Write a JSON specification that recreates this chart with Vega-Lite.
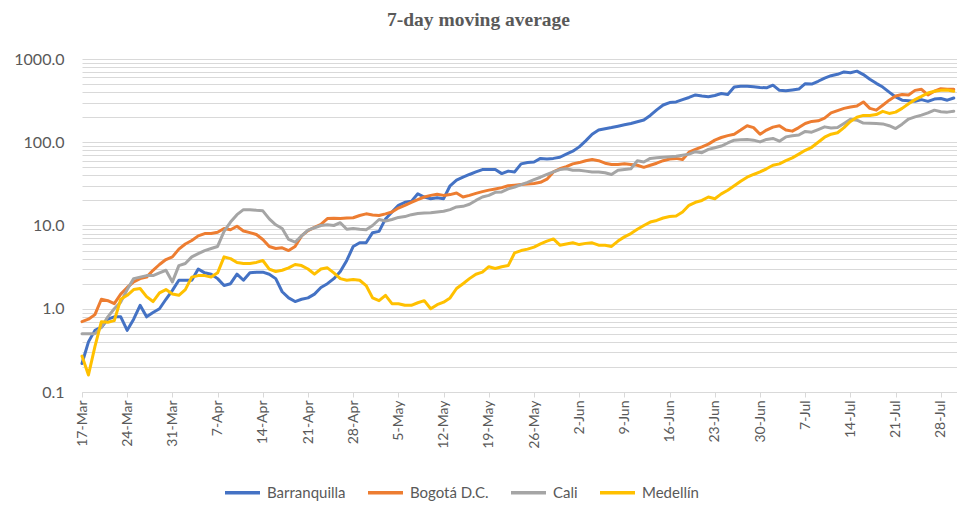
{
  "$schema": "https://vega.github.io/schema/vega-lite/v6.json",
  "width": 875,
  "height": 333,
  "autosize": {"type": "none"},
  "padding": {"left": 82, "top": 59, "right": 0, "bottom": 115},
  "background": "white",
  "title": {"text": "7-day moving average", "font": "Liberation Serif", "fontSize": 19.5, "fontWeight": "bold", "color": "#595959", "anchor": "middle", "dx": -41, "offset": 21},
  "data": {"values": [
    {"d":"2020-03-17T00:00","B":0.22,"O":0.7,"C":0.5,"M":0.27},
    {"d":"2020-03-18T00:00","B":0.4,"O":0.75,"C":0.5,"M":0.16},
    {"d":"2020-03-19T00:00","B":0.55,"O":0.85,"C":0.5,"M":0.35},
    {"d":"2020-03-20T00:00","B":0.6,"O":1.3,"C":0.6,"M":0.7},
    {"d":"2020-03-21T00:00","B":0.75,"O":1.25,"C":0.8,"M":0.69},
    {"d":"2020-03-22T00:00","B":0.8,"O":1.15,"C":1.0,"M":0.72},
    {"d":"2020-03-23T00:00","B":0.8,"O":1.5,"C":1.2,"M":1.3},
    {"d":"2020-03-24T00:00","B":0.55,"O":1.8,"C":1.7,"M":1.45},
    {"d":"2020-03-25T00:00","B":0.75,"O":2.1,"C":2.3,"M":1.7},
    {"d":"2020-03-26T00:00","B":1.1,"O":2.3,"C":2.4,"M":1.75},
    {"d":"2020-03-27T00:00","B":0.8,"O":2.4,"C":2.5,"M":1.4},
    {"d":"2020-03-28T00:00","B":0.9,"O":2.9,"C":2.5,"M":1.22},
    {"d":"2020-03-29T00:00","B":1.0,"O":3.4,"C":2.7,"M":1.55},
    {"d":"2020-03-30T00:00","B":1.3,"O":3.9,"C":2.9,"M":1.7},
    {"d":"2020-03-31T00:00","B":1.66,"O":4.2,"C":2.1,"M":1.5},
    {"d":"2020-04-01T00:00","B":2.2,"O":5.2,"C":3.3,"M":1.45},
    {"d":"2020-04-02T00:00","B":2.2,"O":6.0,"C":3.5,"M":1.7},
    {"d":"2020-04-03T00:00","B":2.2,"O":6.6,"C":4.2,"M":2.4},
    {"d":"2020-04-04T00:00","B":3.0,"O":7.5,"C":4.6,"M":2.5},
    {"d":"2020-04-05T00:00","B":2.7,"O":8.0,"C":5.0,"M":2.5},
    {"d":"2020-04-06T00:00","B":2.6,"O":8.0,"C":5.3,"M":2.4},
    {"d":"2020-04-07T00:00","B":2.3,"O":8.3,"C":5.6,"M":2.7},
    {"d":"2020-04-08T00:00","B":1.9,"O":9.2,"C":8.5,"M":4.2},
    {"d":"2020-04-09T00:00","B":2.0,"O":8.9,"C":11,"M":4.0},
    {"d":"2020-04-10T00:00","B":2.6,"O":9.8,"C":13.5,"M":3.6},
    {"d":"2020-04-11T00:00","B":2.2,"O":8.6,"C":15.5,"M":3.5},
    {"d":"2020-04-12T00:00","B":2.7,"O":8.2,"C":15.5,"M":3.5},
    {"d":"2020-04-13T00:00","B":2.75,"O":7.8,"C":15.2,"M":3.6},
    {"d":"2020-04-14T00:00","B":2.75,"O":6.8,"C":15.0,"M":3.8},
    {"d":"2020-04-15T00:00","B":2.6,"O":5.6,"C":12,"M":3.0},
    {"d":"2020-04-16T00:00","B":2.3,"O":5.3,"C":10.2,"M":2.8},
    {"d":"2020-04-17T00:00","B":1.6,"O":5.4,"C":9.2,"M":2.9},
    {"d":"2020-04-18T00:00","B":1.35,"O":5.0,"C":6.8,"M":3.1},
    {"d":"2020-04-19T00:00","B":1.22,"O":5.6,"C":6.3,"M":3.4},
    {"d":"2020-04-20T00:00","B":1.3,"O":7.5,"C":7.5,"M":3.3},
    {"d":"2020-04-21T00:00","B":1.35,"O":8.7,"C":8.8,"M":3.0},
    {"d":"2020-04-22T00:00","B":1.5,"O":9.5,"C":9.4,"M":2.6},
    {"d":"2020-04-23T00:00","B":1.8,"O":10.3,"C":10,"M":3.0},
    {"d":"2020-04-24T00:00","B":2.0,"O":12.1,"C":10.2,"M":3.1},
    {"d":"2020-04-25T00:00","B":2.3,"O":12.2,"C":10,"M":2.7},
    {"d":"2020-04-26T00:00","B":2.8,"O":12.1,"C":10.8,"M":2.3},
    {"d":"2020-04-27T00:00","B":3.8,"O":12.3,"C":9.0,"M":2.2},
    {"d":"2020-04-28T00:00","B":5.6,"O":12.4,"C":9.2,"M":2.25},
    {"d":"2020-04-29T00:00","B":6.2,"O":13.2,"C":9.0,"M":2.2},
    {"d":"2020-04-30T00:00","B":6.2,"O":13.8,"C":8.9,"M":1.9},
    {"d":"2020-05-01T00:00","B":8.2,"O":13.4,"C":10,"M":1.35},
    {"d":"2020-05-02T00:00","B":8.5,"O":13.2,"C":11.8,"M":1.25},
    {"d":"2020-05-03T00:00","B":12,"O":13.8,"C":11.3,"M":1.45},
    {"d":"2020-05-04T00:00","B":14.5,"O":14.5,"C":11.8,"M":1.15},
    {"d":"2020-05-05T00:00","B":17.5,"O":16.2,"C":12.5,"M":1.15},
    {"d":"2020-05-06T00:00","B":19,"O":17.5,"C":12.8,"M":1.1},
    {"d":"2020-05-07T00:00","B":19.5,"O":19,"C":13.5,"M":1.1},
    {"d":"2020-05-08T00:00","B":24,"O":20.5,"C":13.9,"M":1.18},
    {"d":"2020-05-09T00:00","B":22,"O":22,"C":14.1,"M":1.25},
    {"d":"2020-05-10T00:00","B":21,"O":23,"C":14.2,"M":1.0},
    {"d":"2020-05-11T00:00","B":21.5,"O":23.7,"C":14.5,"M":1.12},
    {"d":"2020-05-12T00:00","B":21,"O":23,"C":14.8,"M":1.2},
    {"d":"2020-05-13T00:00","B":30,"O":23.5,"C":15.5,"M":1.35},
    {"d":"2020-05-14T00:00","B":35,"O":24.6,"C":16.7,"M":1.75},
    {"d":"2020-05-15T00:00","B":38,"O":22,"C":17,"M":2.0},
    {"d":"2020-05-16T00:00","B":41,"O":23,"C":18,"M":2.3},
    {"d":"2020-05-17T00:00","B":44,"O":24.3,"C":20,"M":2.6},
    {"d":"2020-05-18T00:00","B":47,"O":25.5,"C":22,"M":2.75},
    {"d":"2020-05-19T00:00","B":47,"O":26.6,"C":23,"M":3.2},
    {"d":"2020-05-20T00:00","B":47,"O":27.5,"C":25,"M":3.05},
    {"d":"2020-05-21T00:00","B":42,"O":28.5,"C":25.3,"M":3.2},
    {"d":"2020-05-22T00:00","B":45,"O":30,"C":27.5,"M":3.3},
    {"d":"2020-05-23T00:00","B":44,"O":30.5,"C":29,"M":4.7},
    {"d":"2020-05-24T00:00","B":55,"O":31,"C":31,"M":5.0},
    {"d":"2020-05-25T00:00","B":57,"O":31.5,"C":33,"M":5.2},
    {"d":"2020-05-26T00:00","B":58,"O":32,"C":35.5,"M":5.5},
    {"d":"2020-05-27T00:00","B":64,"O":33,"C":38,"M":6.0},
    {"d":"2020-05-28T00:00","B":63,"O":36,"C":41,"M":6.5},
    {"d":"2020-05-29T00:00","B":64,"O":44,"C":44,"M":6.9},
    {"d":"2020-05-30T00:00","B":66,"O":48,"C":47,"M":5.8},
    {"d":"2020-05-31T00:00","B":72,"O":51,"C":48,"M":6.0},
    {"d":"2020-06-01T00:00","B":78,"O":55,"C":46,"M":6.2},
    {"d":"2020-06-02T00:00","B":88,"O":57,"C":46,"M":5.9},
    {"d":"2020-06-03T00:00","B":104,"O":60,"C":45,"M":6.1},
    {"d":"2020-06-04T00:00","B":125,"O":62,"C":44,"M":6.2},
    {"d":"2020-06-05T00:00","B":140,"O":60,"C":44,"M":5.8},
    {"d":"2020-06-06T00:00","B":145,"O":56,"C":43,"M":5.8},
    {"d":"2020-06-07T00:00","B":150,"O":54,"C":41,"M":5.6},
    {"d":"2020-06-08T00:00","B":156,"O":54,"C":46,"M":6.5},
    {"d":"2020-06-09T00:00","B":162,"O":55,"C":47,"M":7.3},
    {"d":"2020-06-10T00:00","B":168,"O":54,"C":48,"M":8.0},
    {"d":"2020-06-11T00:00","B":176,"O":53,"C":60,"M":9.0},
    {"d":"2020-06-12T00:00","B":185,"O":50,"C":58,"M":10},
    {"d":"2020-06-13T00:00","B":210,"O":53,"C":64,"M":11},
    {"d":"2020-06-14T00:00","B":245,"O":56,"C":65,"M":11.5},
    {"d":"2020-06-15T00:00","B":280,"O":60,"C":66,"M":12.3},
    {"d":"2020-06-16T00:00","B":300,"O":63,"C":67,"M":12.8},
    {"d":"2020-06-17T00:00","B":305,"O":64,"C":68,"M":13},
    {"d":"2020-06-18T00:00","B":325,"O":62,"C":70,"M":14.5},
    {"d":"2020-06-19T00:00","B":345,"O":76,"C":72,"M":17.5},
    {"d":"2020-06-20T00:00","B":370,"O":82,"C":77,"M":19},
    {"d":"2020-06-21T00:00","B":360,"O":88,"C":75,"M":20},
    {"d":"2020-06-22T00:00","B":352,"O":95,"C":82,"M":22},
    {"d":"2020-06-23T00:00","B":365,"O":106,"C":86,"M":21},
    {"d":"2020-06-24T00:00","B":385,"O":114,"C":90,"M":24},
    {"d":"2020-06-25T00:00","B":375,"O":120,"C":98,"M":26.5},
    {"d":"2020-06-26T00:00","B":460,"O":125,"C":106,"M":30},
    {"d":"2020-06-27T00:00","B":470,"O":140,"C":107,"M":34},
    {"d":"2020-06-28T00:00","B":470,"O":158,"C":108,"M":38},
    {"d":"2020-06-29T00:00","B":465,"O":150,"C":106,"M":41},
    {"d":"2020-06-30T00:00","B":455,"O":125,"C":101,"M":44},
    {"d":"2020-07-01T00:00","B":450,"O":140,"C":108,"M":48},
    {"d":"2020-07-02T00:00","B":485,"O":152,"C":111,"M":53},
    {"d":"2020-07-03T00:00","B":420,"O":158,"C":103,"M":55},
    {"d":"2020-07-04T00:00","B":415,"O":140,"C":116,"M":60},
    {"d":"2020-07-05T00:00","B":425,"O":136,"C":120,"M":65},
    {"d":"2020-07-06T00:00","B":435,"O":150,"C":122,"M":72},
    {"d":"2020-07-07T00:00","B":505,"O":168,"C":135,"M":80},
    {"d":"2020-07-08T00:00","B":500,"O":178,"C":132,"M":87},
    {"d":"2020-07-09T00:00","B":540,"O":181,"C":142,"M":100},
    {"d":"2020-07-10T00:00","B":590,"O":195,"C":153,"M":115},
    {"d":"2020-07-11T00:00","B":630,"O":225,"C":148,"M":125},
    {"d":"2020-07-12T00:00","B":655,"O":240,"C":150,"M":130},
    {"d":"2020-07-13T00:00","B":700,"O":255,"C":168,"M":150},
    {"d":"2020-07-14T00:00","B":685,"O":265,"C":189,"M":178},
    {"d":"2020-07-15T00:00","B":715,"O":272,"C":184,"M":200},
    {"d":"2020-07-16T00:00","B":650,"O":305,"C":170,"M":210},
    {"d":"2020-07-17T00:00","B":570,"O":255,"C":169,"M":210},
    {"d":"2020-07-18T00:00","B":510,"O":243,"C":168,"M":215},
    {"d":"2020-07-19T00:00","B":460,"O":278,"C":166,"M":235},
    {"d":"2020-07-20T00:00","B":400,"O":320,"C":158,"M":222},
    {"d":"2020-07-21T00:00","B":350,"O":360,"C":146,"M":230},
    {"d":"2020-07-22T00:00","B":320,"O":375,"C":165,"M":255},
    {"d":"2020-07-23T00:00","B":315,"O":370,"C":190,"M":290},
    {"d":"2020-07-24T00:00","B":310,"O":420,"C":202,"M":325},
    {"d":"2020-07-25T00:00","B":325,"O":433,"C":212,"M":355},
    {"d":"2020-07-26T00:00","B":310,"O":370,"C":225,"M":390},
    {"d":"2020-07-27T00:00","B":330,"O":410,"C":243,"M":410},
    {"d":"2020-07-28T00:00","B":335,"O":440,"C":232,"M":420},
    {"d":"2020-07-29T00:00","B":320,"O":433,"C":230,"M":425},
    {"d":"2020-07-30T00:00","B":340,"O":433,"C":236,"M":410}
  ]},
  "encoding": {
    "x": {
      "field": "d", "type": "temporal",
      "scale": {"domain": [{"year": 2020, "month": 3, "date": 17}, {"year": 2020, "month": 7, "date": 30, "hours": 12}]},
      "axis": {
        "values": [
          {"year": 2020, "month": 3, "date": 17}, {"year": 2020, "month": 3, "date": 24}, {"year": 2020, "month": 3, "date": 31},
          {"year": 2020, "month": 4, "date": 7}, {"year": 2020, "month": 4, "date": 14}, {"year": 2020, "month": 4, "date": 21}, {"year": 2020, "month": 4, "date": 28},
          {"year": 2020, "month": 5, "date": 5}, {"year": 2020, "month": 5, "date": 12}, {"year": 2020, "month": 5, "date": 19}, {"year": 2020, "month": 5, "date": 26},
          {"year": 2020, "month": 6, "date": 2}, {"year": 2020, "month": 6, "date": 9}, {"year": 2020, "month": 6, "date": 16}, {"year": 2020, "month": 6, "date": 23}, {"year": 2020, "month": 6, "date": 30},
          {"year": 2020, "month": 7, "date": 7}, {"year": 2020, "month": 7, "date": 14}, {"year": 2020, "month": 7, "date": 21}, {"year": 2020, "month": 7, "date": 28}
        ],
        "format": "%-d-%b", "labelAngle": -90, "labelFont": "Lato", "labelFontSize": 14, "labelColor": "#595959",
        "tickColor": "#d9d9d9", "tickSize": 5, "domainColor": "#d9d9d9", "grid": false, "title": null, "labelPadding": 3, "labelOverlap": false
      }
    }
  },
  "layer": [
    {"mark": {"type": "line", "strokeWidth": 3, "strokeJoin": "round", "strokeCap": "round"},
     "encoding": {
       "y": {"field": "B", "type": "quantitative", "scale": {"type": "log", "domain": [0.1, 1000], "nice": false},
         "axis": {
           "values": [0.1,0.2,0.3,0.4,0.5,0.6,0.7,0.8,0.9,1,2,3,4,5,6,7,8,9,10,20,30,40,50,60,70,80,90,100,200,300,400,500,600,700,800,900,1000],
           "labelExpr": "(datum.value == 0.1 || datum.value == 1 || datum.value == 10 || datum.value == 100 || datum.value == 1000) ? format(datum.value, '.1f') : ''",
           "grid": true, "gridColor": "#d9d9d9", "gridWidth": 1, "domain": false, "ticks": false, "labelPadding": 18,
           "labelFont": "Lato", "labelFontSize": 16, "labelColor": "#595959", "title": null, "labelOverlap": false
         }},
       "color": {"datum": "Barranquilla"}
     }},
    {"mark": {"type": "line", "strokeWidth": 3, "strokeJoin": "round", "strokeCap": "round"},
     "encoding": {
       "y": {"field": "O", "type": "quantitative", "scale": {"type": "log", "domain": [0.1, 1000], "nice": false},
         "axis": {
           "values": [0.1,0.2,0.3,0.4,0.5,0.6,0.7,0.8,0.9,1,2,3,4,5,6,7,8,9,10,20,30,40,50,60,70,80,90,100,200,300,400,500,600,700,800,900,1000],
           "labelExpr": "(datum.value == 0.1 || datum.value == 1 || datum.value == 10 || datum.value == 100 || datum.value == 1000) ? format(datum.value, '.1f') : ''",
           "grid": true, "gridColor": "#d9d9d9", "gridWidth": 1, "domain": false, "ticks": false, "labelPadding": 18,
           "labelFont": "Lato", "labelFontSize": 16, "labelColor": "#595959", "title": null, "labelOverlap": false
         }},
       "color": {"datum": "Bogotá D.C."}
     }},
    {"mark": {"type": "line", "strokeWidth": 3, "strokeJoin": "round", "strokeCap": "round"},
     "encoding": {
       "y": {"field": "C", "type": "quantitative", "scale": {"type": "log", "domain": [0.1, 1000], "nice": false},
         "axis": {
           "values": [0.1,0.2,0.3,0.4,0.5,0.6,0.7,0.8,0.9,1,2,3,4,5,6,7,8,9,10,20,30,40,50,60,70,80,90,100,200,300,400,500,600,700,800,900,1000],
           "labelExpr": "(datum.value == 0.1 || datum.value == 1 || datum.value == 10 || datum.value == 100 || datum.value == 1000) ? format(datum.value, '.1f') : ''",
           "grid": true, "gridColor": "#d9d9d9", "gridWidth": 1, "domain": false, "ticks": false, "labelPadding": 18,
           "labelFont": "Lato", "labelFontSize": 16, "labelColor": "#595959", "title": null, "labelOverlap": false
         }},
       "color": {"datum": "Cali"}
     }},
    {"mark": {"type": "line", "strokeWidth": 3, "strokeJoin": "round", "strokeCap": "round"},
     "encoding": {
       "y": {"field": "M", "type": "quantitative", "scale": {"type": "log", "domain": [0.1, 1000], "nice": false},
         "axis": {
           "values": [0.1,0.2,0.3,0.4,0.5,0.6,0.7,0.8,0.9,1,2,3,4,5,6,7,8,9,10,20,30,40,50,60,70,80,90,100,200,300,400,500,600,700,800,900,1000],
           "labelExpr": "(datum.value == 0.1 || datum.value == 1 || datum.value == 10 || datum.value == 100 || datum.value == 1000) ? format(datum.value, '.1f') : ''",
           "grid": true, "gridColor": "#d9d9d9", "gridWidth": 1, "domain": false, "ticks": false, "labelPadding": 18,
           "labelFont": "Lato", "labelFontSize": 16, "labelColor": "#595959", "title": null, "labelOverlap": false
         }},
       "color": {"datum": "Medellín", "type": "nominal",
         "scale": {"domain": ["Barranquilla", "Bogotá D.C.", "Cali", "Medellín"], "range": ["#4472C4", "#ED7D31", "#A5A5A5", "#FFC000"]},
         "legend": {"orient": "none", "direction": "horizontal", "legendX": 141, "legendY": 414, "title": null,
           "symbolType": "stroke", "symbolSize": 1225, "symbolStrokeWidth": 3.5, "labelFont": "Lato", "labelFontSize": 15,
           "labelColor": "#595959", "labelOffset": 5, "columnPadding": 15}}
     }}
  ],
  "config": {"view": {"stroke": null}}
}
